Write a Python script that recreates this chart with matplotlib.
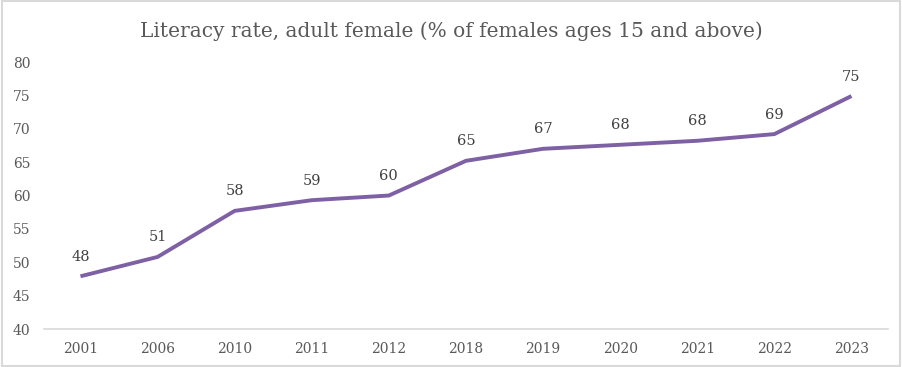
import numpy as np
import matplotlib.pyplot as plt
from matplotlib.patches import Rectangle

years = ['2001', '2006', '2010', '2011', '2012', '2018', '2019', '2020', '2021', '2022', '2023']
rate = [47.9, 50.8, 57.7, 59.3, 60.0, 65.2, 67.0, 67.6, 68.2, 69.2, 74.9]
labels = ['48', '51', '58', '59', '60', '65', '67', '68', '68', '69', '75']

plt.rcParams['font.family'] = ['DejaVu Serif']

fig = plt.figure(figsize=(9.03, 3.67), dpi=100)
ax = fig.add_axes([0.049, 0.1035, 0.934, 0.7275])

x = np.arange(len(years))
ax.plot(x, rate, color='#7E60A4', lw=2.8, solid_capstyle='butt', solid_joinstyle='miter')
for xi, yi, lab in zip(x, rate, labels):
    ax.annotate(lab, (xi, yi), xytext=(0, 9), textcoords='offset points',
                ha='center', va='bottom', fontsize=10.5, color='#404040')

ax.set_xlim(-0.47, len(years) - 0.53)
ax.set_ylim(40, 80)
ax.set_yticks(np.arange(40, 81, 5))
ax.set_xticks(x)
ax.set_xticklabels(years)
ax.tick_params(axis='both', length=0, labelsize=10, colors='#595959')
ax.tick_params(axis='y', pad=10)
ax.tick_params(axis='x', pad=9)
for s in ['top', 'right', 'left']:
    ax.spines[s].set_visible(False)
ax.spines['bottom'].set_color('#d9d9d9')
ax.spines['bottom'].set_linewidth(1.2)

fig.text(0.5, 0.915, 'Literacy rate, adult female (% of females ages 15 and above)',
         ha='center', va='center', fontsize=14.5, color='#595959')

fig.patches.append(Rectangle((0.002, 0.004), 0.995, 0.992, transform=fig.transFigure,
                             fill=False, edgecolor='#d9d9d9', lw=1.5))

fig.savefig('out.png', dpi=100)
